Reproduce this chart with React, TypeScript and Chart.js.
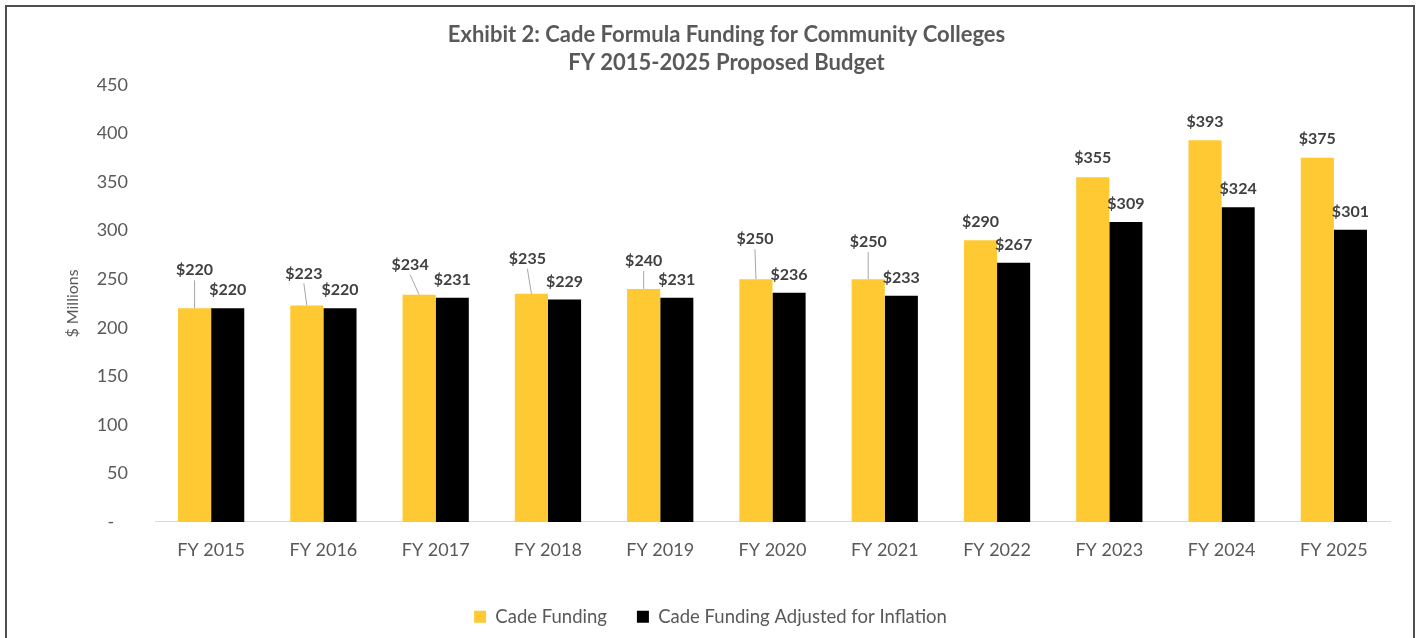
import React, { useEffect, useRef } from "react";
import { Chart, registerables } from "chart.js";

Chart.register(...registerables);

const categories = ["FY 2015", "FY 2016", "FY 2017", "FY 2018", "FY 2019", "FY 2020", "FY 2021", "FY 2022", "FY 2023", "FY 2024", "FY 2025"];
const cadeFunding = [220, 223, 234, 235, 240, 250, 250, 290, 355, 393, 375];
const cadeAdjusted = [220, 220, 231, 229, 231, 236, 233, 267, 309, 324, 301];
const yTicks = [0, 50, 100, 150, 200, 250, 300, 350, 400, 450];
const titleLines = ["Exhibit 2: Cade Formula Funding for Community Colleges", "FY 2015-2025 Proposed Budget"];
const seriesNames = ["Cade Funding", "Cade Funding Adjusted for Inflation"];

// label placement (style): pixels above bar top, and horizontal shift
const yellowLabelLift = [38, 32, 30, 35, 28, 40, 37, 19, 19, 19, 19];
const yellowLabelShift = [0, -3, -9, -4, 0, -1, 0, 0, 0, 0, 0];
const blackLabelLift = [18, 18, 18, 18, 18, 18, 18, 18, 18, 18, 18];

const FONT = "Lato";
const TEXT = "#595959";

const labelPlugin = {
  id: "barLabels",
  afterDatasetsDraw(chart: any) {
    const ctx = chart.ctx;
    ctx.save();
    chart.data.datasets.forEach((ds: any, di: number) => {
      const meta = chart.getDatasetMeta(di);
      meta.data.forEach((bar: any, i: number) => {
        const v = ds.data[i];
        const lift = di === 0 ? yellowLabelLift[i] : blackLabelLift[i];
        const dx = di === 0 ? yellowLabelShift[i] : 0;
        const cx = bar.x + dx;
        const cy = bar.y - lift;
        if (lift > 25) {
          ctx.strokeStyle = "#A6A6A6";
          ctx.lineWidth = 1;
          ctx.beginPath();
          ctx.moveTo(cx, cy + 10);
          ctx.lineTo(bar.x, bar.y);
          ctx.stroke();
        }
        ctx.fillStyle = "#404040";
        ctx.font = `bold 16px ${FONT}`;
        ctx.textAlign = "center";
        ctx.textBaseline = "middle";
        ctx.fillText("$" + v, cx, cy);
      });
    });
    ctx.restore();
  },
};

// shift the legend so it is centred on the whole frame, like the reference
const legendShiftPlugin = {
  id: "legendShift",
  afterLayout(chart: any) {
    const lg = chart.legend;
    if (lg) {
      lg.left -= 16;
      lg.right -= 16;
    }
  },
};

export default function App() {
  const ref = useRef<HTMLCanvasElement | null>(null);

  useEffect(() => {
    document.body.style.margin = "0";
    if (!ref.current) return;
    const chart = new Chart(ref.current, {
      type: "bar",
      data: {
        labels: categories,
        datasets: [
          {
            label: seriesNames[0],
            data: cadeFunding,
            backgroundColor: "#FFC933",
            categoryPercentage: 0.59,
            barPercentage: 1,
          },
          {
            label: seriesNames[1],
            data: cadeAdjusted,
            backgroundColor: "#000000",
            categoryPercentage: 0.59,
            barPercentage: 1,
          },
        ],
      },
      options: {
        responsive: false,
        animation: false,
        layout: { padding: { left: 63, right: 30, top: 0, bottom: 2 } },
        plugins: {
          title: {
            display: true,
            text: titleLines,
            color: TEXT,
            font: { family: FONT, size: 22, weight: "bold", lineHeight: 1.273 },
            padding: { top: 21, bottom: 8 },
          },
          legend: {
            position: "bottom",
            labels: {
              boxWidth: 12,
              boxHeight: 12,
              color: TEXT,
              font: { family: FONT, size: 18.5 },
              padding: 30,
            },
          },
          tooltip: { enabled: false },
        },
        scales: {
          x: {
            grid: { display: false, drawTicks: false },
            border: { display: true, color: "#D9D9D9", width: 1 },
            ticks: { color: TEXT, font: { family: FONT, size: 18 }, padding: 17 },
          },
          y: {
            min: 0,
            max: 450,
            afterBuildTicks: (axis: any) => {
              axis.ticks = yTicks.map((v) => ({ value: v }));
            },
            afterFit: (axis: any) => {
              axis.width = 92;
            },
            grid: { display: false, drawTicks: false },
            border: { display: false },
            ticks: {
              color: TEXT,
              font: { family: FONT, size: 18 },
              padding: 27,
              callback: (v: any) => (Number(v) === 0 ? "-   " : String(v)),
            },
            title: {
              display: true,
              text: "$ Millions",
              color: TEXT,
              font: { family: FONT, size: 16 },
              padding: { top: 0, bottom: 0 },
            },
          },
        },
      },
      plugins: [labelPlugin, legendShiftPlugin],
    });
    return () => chart.destroy();
  }, []);

  return (
    <div style={{ position: "relative", width: 1420, height: 638, overflow: "hidden", background: "#fff" }}>
      <canvas ref={ref} width={1420} height={638} style={{ position: "absolute", left: 0, top: 0 }} />
      <div
        style={{
          position: "absolute",
          left: 5,
          top: 5,
          width: 1406,
          height: 700,
          border: "2px solid #505050",
          pointerEvents: "none",
        }}
      />
    </div>
  );
}
